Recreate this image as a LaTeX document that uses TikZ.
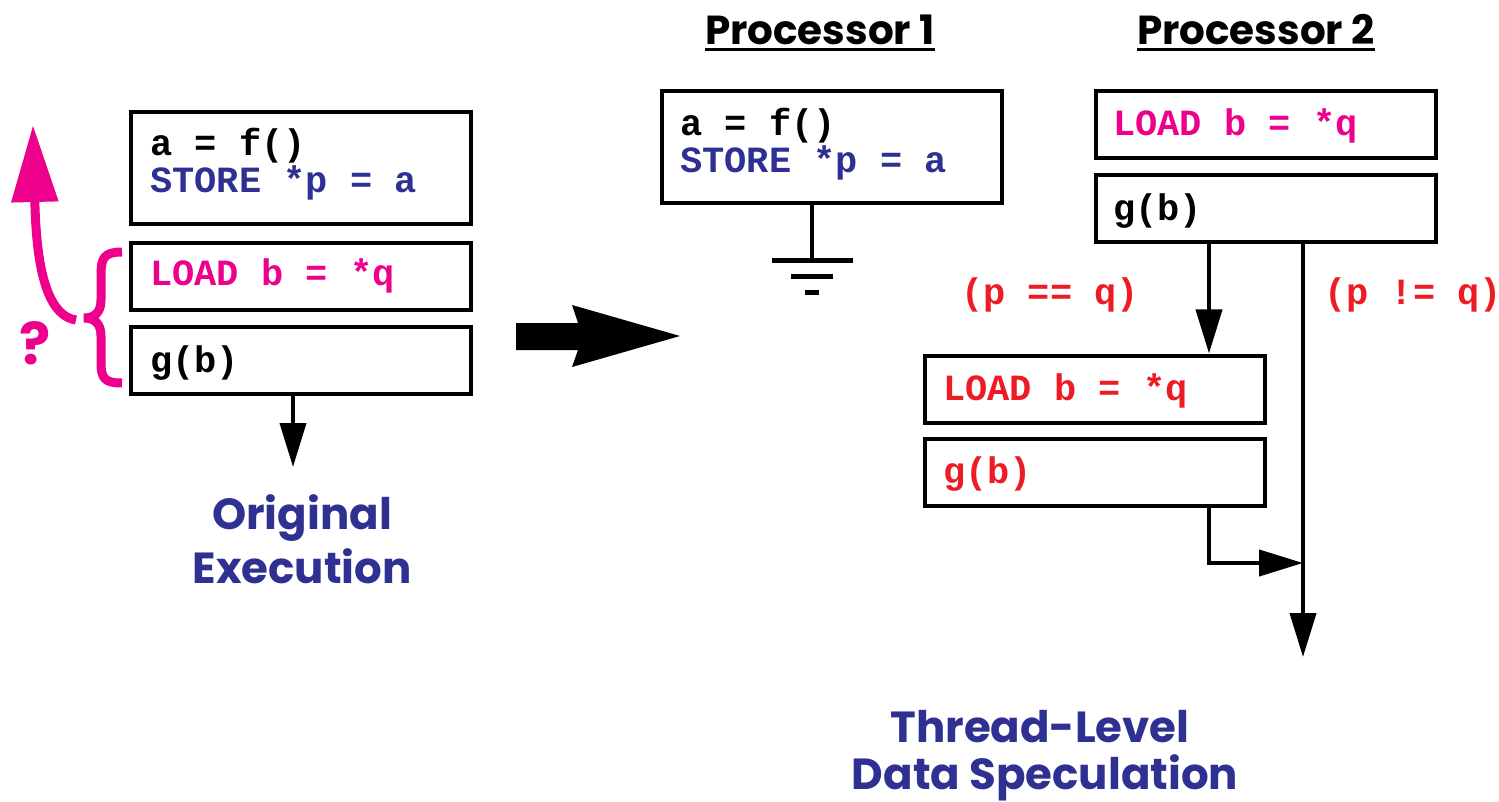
\documentclass[tikz,border=0pt]{standalone}
\usepackage{fontspec}
\usetikzlibrary{arrows.meta,calc}
\newfontfamily\codefont{Liberation Mono}
\newfontfamily\headfont{Poppins}
\definecolor{navy}{HTML}{2E3192}
\definecolor{mag}{HTML}{EC008C}
\definecolor{redc}{HTML}{ED1C24}
\begin{document}
\begin{tikzpicture}[x=1pt,y=-1pt,
  box/.style={draw, line width=4pt, minimum width=340pt, inner sep=0pt},
  onebox/.style={box, minimum height=67pt},
  twobox/.style={box, minimum height=112pt},
  code/.style={anchor=base west, inner sep=0pt, font=\codefont\bfseries\fontsize{37}{37}\selectfont},
  head/.style={anchor=base, inner sep=0pt, font=\headfont\bfseries\fontsize{40.5}{40.5}\selectfont},
  title/.style={anchor=base, inner sep=0pt, text=navy, font=\headfont\bfseries\fontsize{43.5}{43.5}\selectfont},
  flow/.style={line width=4pt, -{Triangle[length=44pt,width=26pt]}},
  wire/.style={line width=4pt},
  uline/.style={line width=3pt},
]
\useasboundingbox (0,0) rectangle (1499,802);

% ---------- original execution ----------
\node[twobox] (lb1) at (301,168) {};
\node[onebox] (lb2) at (301,277) {};
\node[onebox] (lb3) at (301,360) {};
\node[code] (lt1) at (150,156) {a = f()};
\node[code, text=navy] (lt2) at (150,193) {STORE *p = a};
\node[code, text=mag] (lt3) at (150,286) {LOAD b = *q};
\node[code] (lt4) at (150,372) {g(b)};
\coordinate (lend) at (293,467);
\draw[flow] (lb3.south -| lend) -- (lend);
\node[title] (oe1) at (302,529) {Original};
\node[title] (oe2) at (302,583) {Execution};

% hoisting the load: brace, curved arrow and question mark
\draw[mag, line width=9pt, line cap=butt]
  (122,252) .. controls (104,252) and (101,258) .. (101,275) -- (101,300)
  .. controls (101,313) and (94,318) .. (84,318)
  .. controls (94,318) and (101,323) .. (101,336) -- (101,362)
  .. controls (101,378) and (104,383) .. (122,383);
\coordinate (htail) at (76,320);
\coordinate (htip) at (33,125);
\draw[mag, line width=9pt, -{Triangle[length=77pt,width=45pt]}]
  (htail) .. controls (42,315) and (36,250) .. (htip);
\node[anchor=base, inner sep=0pt, text=mag, font=\headfont\bfseries\fontsize{58}{58}\selectfont] (qm) at (35,364) {?};

% ---------- transformation arrow ----------
\fill (516,323) -- (578,323) -- (572,305) -- (680,336) -- (572,367) -- (578,350) -- (516,350) -- cycle;

% ---------- processor 1 ----------
\node[head] (h1) at (820,45) {Processor 1};
\draw[uline] ([yshift=-4pt]h1.south west) -- ([yshift=-4pt]h1.south east);
\node[twobox] (p1) at (832,147.5) {};
\node[code] (pt1) at (680,136) {a = f()};
\node[code, text=navy] (pt2) at (680,173) {STORE *p = a};
\coordinate (gnd) at (812,261);
\draw[wire] (p1.south -| gnd) -- (gnd);
\draw[line width=5pt] ($(gnd)+(-40,0)$) -- ($(gnd)+(41,0)$);
\draw[line width=5pt] ($(gnd)+(-21,16)$) -- ($(gnd)+(21,16)$);
\draw[line width=5pt] ($(gnd)+(-7,32)$) -- ($(gnd)+(7,32)$);

% ---------- processor 2 ----------
\node[head] (h2) at (1256,45) {Processor 2};
\draw[uline] ([yshift=-4pt]h2.south west) -- ([yshift=-4pt]h2.south east);
\node[onebox] (p2a) at (1266,125) {};
\node[onebox] (p2b) at (1266,208.5) {};
\node[code, text=mag] (qt1) at (1113,136) {LOAD b = *q};
\node[code] (qt2) at (1113,221) {g(b)};

\node[code, text=redc] (eq) at (961,305) {(p == q)};
\node[code, text=redc] (ne) at (1324,305) {(p != q)};

\node[onebox] (rb1) at (1094.5,389) {};
\node[onebox] (rb2) at (1094.5,472) {};
\node[code, text=redc] (rt1) at (943,400) {LOAD b = *q};
\node[code, text=redc] (rt2) at (943,483) {g(b)};

\coordinate (sp) at (1209,0);
\coordinate (endR) at (1303,657);
\coordinate (join) at (1303,563);
\draw[flow] (p2b.south -| sp) -- (rb1.north -| sp);
\draw[flow] (p2b.south -| endR) -- (endR);
\draw[flow] (rb2.south -| sp) |- (join);

\node[title] (tl1) at (1040,742) {Thread-Level};
\node[title] (tl2) at (1045,789) {Data Speculation};
\end{tikzpicture}
\end{document}
